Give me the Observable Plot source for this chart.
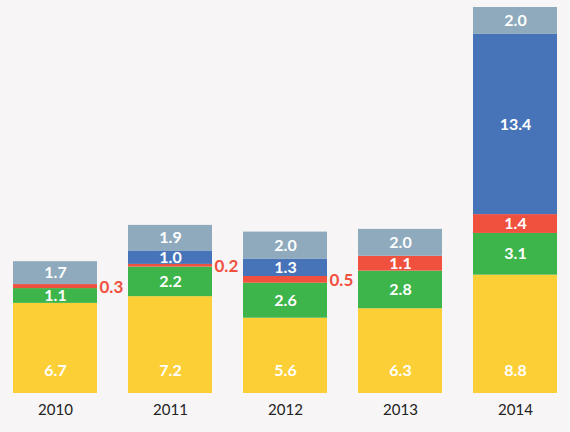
<!DOCTYPE html>
<html>
<head>
<meta charset="utf-8">
<script src="https://cdn.jsdelivr.net/npm/d3@7"></script>
<script src="https://cdn.jsdelivr.net/npm/@observablehq/plot@0.6"></script>
<style>
  html, body { margin: 0; padding: 0; background: #f7f5f6; }
  #chart { width: 570px; height: 432px; }
</style>
</head>
<body>
<div id="chart"></div>
<script>
const years = ["2010", "2011", "2012", "2013", "2014"];
const seriesNames = ["S1", "S2", "S3", "S4", "S5"];
const yellowValues = [6.7, 7.2, 5.6, 6.3, 8.8];
const greenValues = [1.1, 2.2, 2.6, 2.8, 3.1];
const redValues = [0.3, 0.2, 0.5, 1.1, 1.4];
const blueValues = [0, 1.0, 1.3, 0, 13.4];
const grayValues = [1.7, 1.9, 2.0, 2.0, 2.0];
const colors = ["#fdcf36", "#3db54a", "#f0513f", "#4774b8", "#8eaabc"];

const allValues = [yellowValues, greenValues, redValues, blueValues, grayValues];
const rows = [];
years.forEach((yr, i) => {
  let acc = 0;
  allValues.forEach((vals, s) => {
    const v = vals[i];
    rows.push({year: yr, series: seriesNames[s], value: v, y1: acc, y2: acc + v, mid: acc + v / 2});
    acc += v;
  });
});
const totals = years.map((_, i) => allValues.reduce((a, vals) => a + vals[i], 0));
const maxTotal = d3.max(totals);

const inside = rows.filter(d => d.value > 0 && d.series !== "S1" && !(d.series === "S3" && d.value < 1));
const outside = rows.filter(d => d.series === "S3" && d.value < 1);
const bottom = rows.filter(d => d.series === "S1");

const plot = Plot.plot({
  width: 570,
  height: 432,
  marginTop: 7,
  marginBottom: 39,
  marginLeft: 0,
  marginRight: 0,
  style: {background: "#f7f5f6", fontFamily: "Lato, 'Open Sans', sans-serif"},
  x: {domain: years, paddingInner: 0.273, paddingOuter: 0.104, label: null},
  y: {domain: [0, maxTotal], axis: null},
  color: {domain: seriesNames, range: colors},
  marks: [
    Plot.rectY(rows.filter(d => d.value > 0), {x: "year", y1: "y1", y2: "y2", fill: "series"}),
    Plot.text(inside, {x: "year", y: "mid", text: d => d.value.toFixed(1), fill: "white", fontSize: 16, fontWeight: "bold"}),
    Plot.text(bottom, {x: "year", y: "y1", dy: -23, text: d => d.value.toFixed(1), fill: "white", fontSize: 16, fontWeight: "bold"}),
    Plot.text(outside, {x: "year", y: "mid", dx: 44, dy: 1, textAnchor: "start", text: d => d.value.toFixed(1), fill: "#f0513f", fontSize: 17, fontWeight: "bold"}),
    Plot.axisX({tickSize: 0, tickPadding: 11, fontSize: 15, color: "#222", label: null})
  ]
});
document.getElementById("chart").appendChild(plot);
</script>
</body>
</html>
